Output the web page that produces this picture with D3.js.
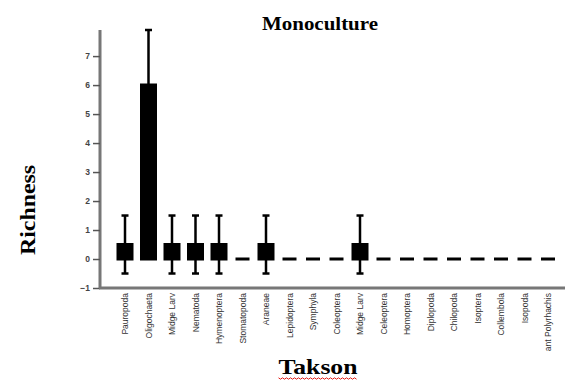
<!DOCTYPE html>
<html>
<head>
<meta charset="utf-8">
<script src="https://cdn.jsdelivr.net/npm/d3@7"></script>
<style>
  html, body { margin: 0; padding: 0; background: #fff; }
  svg { display: block; }
</style>
</head>
<body>
<svg id="chart" width="569" height="380"></svg>
<script>
// Taxa sampled in the monoculture plots
const categories = [
  "Pauropoda", "Oligochaeta", "Midge Larv", "Nematoda", "Hymenoptera",
  "Stomatopoda", "Araneae", "Lepidoptera", "Symphyla", "Coleoptera",
  "Midge Larv ", "Celeoptera", "Homoptera", "Diplopoda", "Chilopoda",
  "Isoptera", "Collembola", "Isopoda", "ant Polyrhachis"
];
// Mean richness per taxon
const means = [0.5, 6, 0.5, 0.5, 0.5, 0, 0.5, 0, 0, 0, 0.5, 0, 0, 0, 0, 0, 0, 0, 0];
// Error (± around the mean)
const errors = [1, 1.9, 1, 1, 1, 0, 1, 0, 0, 0, 1, 0, 0, 0, 0, 0, 0, 0, 0];
// Y axis ticks
const yTicks = [-1, 0, 1, 2, 3, 4, 5, 6, 7];

const svg = d3.select("#chart");

const axisX = 100, axisBottom = 288, axisTop = 30;

const y = d3.scaleLinear().domain([-1, 7.9]).range([axisBottom, axisTop]);
const x = d3.scalePoint().domain(categories).range([125, 548]);

const barW = 14;
const rows = categories.map((c, i) => ({ c, m: means[i], e: errors[i] }));

// Bars as closed paths, so a zero value still shows as a flat stroked dash
svg.append("g").selectAll("path").data(rows).join("path")
  .attr("d", d => {
    const x0 = x(d.c) - barW / 2, y0 = y(0), y1 = y(d.m);
    return `M${x0},${y0}H${x0 + barW}V${y1}H${x0}Z`;
  })
  .attr("fill", "#000")
  .attr("stroke", "#000")
  .attr("stroke-width", 3);

// Error bars
const eb = svg.append("g").selectAll("g").data(rows.filter(d => d.e > 0)).join("g");
eb.append("line")
  .attr("x1", d => x(d.c)).attr("x2", d => x(d.c))
  .attr("y1", d => y(d.m - d.e)).attr("y2", d => y(d.m + d.e))
  .attr("stroke", "#000").attr("stroke-width", 2.5);
eb.append("line")
  .attr("x1", d => x(d.c) - 3.5).attr("x2", d => x(d.c) + 3.5)
  .attr("y1", d => y(d.m + d.e)).attr("y2", d => y(d.m + d.e))
  .attr("stroke", "#000").attr("stroke-width", 2.5);
eb.append("line")
  .attr("x1", d => x(d.c) - 3.5).attr("x2", d => x(d.c) + 3.5)
  .attr("y1", d => y(d.m - d.e)).attr("y2", d => y(d.m - d.e))
  .attr("stroke", "#000").attr("stroke-width", 2.5);

// Y axis
const yAxis = svg.append("g")
  .attr("transform", `translate(${axisX},0)`)
  .call(d3.axisLeft(y).tickValues(yTicks).tickSize(7).tickPadding(3).tickFormat(d3.format("d")));
yAxis.select(".domain").attr("stroke", "#777").attr("stroke-width", 3).attr("d", `M0,${axisTop}V${axisBottom}`);
yAxis.selectAll(".tick line").attr("stroke", "#555").attr("stroke-width", 1.5);
yAxis.selectAll(".tick text").attr("font-family", "Liberation Sans, Arial, sans-serif")
  .attr("font-size", 8.5).attr("font-weight", "bold").attr("fill", "#444");

// X axis
const xAxis = svg.append("g")
  .attr("transform", `translate(0,${axisBottom})`)
  .call(d3.axisBottom(x).tickSize(0).tickPadding(0));
xAxis.select(".domain").attr("stroke", "#777").attr("stroke-width", 3).attr("d", `M${axisX - 1},0H565`);
xAxis.selectAll(".tick text")
  .attr("font-family", "Liberation Sans Narrow, Liberation Sans, Arial, sans-serif")
  .attr("font-size", 8.5).attr("fill", "#333")
  .attr("text-anchor", "end")
  .attr("transform", "translate(0,5) rotate(-90)")
  .attr("x", 0).attr("y", 0).attr("dy", "0.35em");

// Titles
const serif = "Liberation Serif, Times New Roman, serif";
svg.append("text").attr("x", 320).attr("y", 30).attr("text-anchor", "middle")
  .attr("font-family", serif).attr("font-weight", "bold").attr("font-size", 19)
  .attr("textLength", 116).attr("lengthAdjust", "spacingAndGlyphs")
  .text("Monoculture");
svg.append("text").attr("transform", "translate(35,210) rotate(-90)").attr("text-anchor", "middle")
  .attr("font-family", serif).attr("font-weight", "bold").attr("font-size", 20)
  .attr("textLength", 90).attr("lengthAdjust", "spacingAndGlyphs")
  .text("Richness");
const tk = svg.append("text").attr("x", 318).attr("y", 374).attr("text-anchor", "middle")
  .attr("font-family", serif).attr("font-weight", "bold").attr("font-size", 21)
  .attr("textLength", 79).attr("lengthAdjust", "spacingAndGlyphs")
  .text("Takson");

// Spell-check squiggle under the axis title
const x0t = 318 - 79 / 2;
const pts = [];
for (let px = x0t; px <= x0t + 79; px += 2) pts.push([px, 378 + ((Math.round((px - x0t) / 2) % 2) ? 1.2 : -0.2)]);
svg.append("path").attr("d", d3.line()(pts)).attr("fill", "none").attr("stroke", "#e0201a").attr("stroke-width", 1);
</script>
</body>
</html>
